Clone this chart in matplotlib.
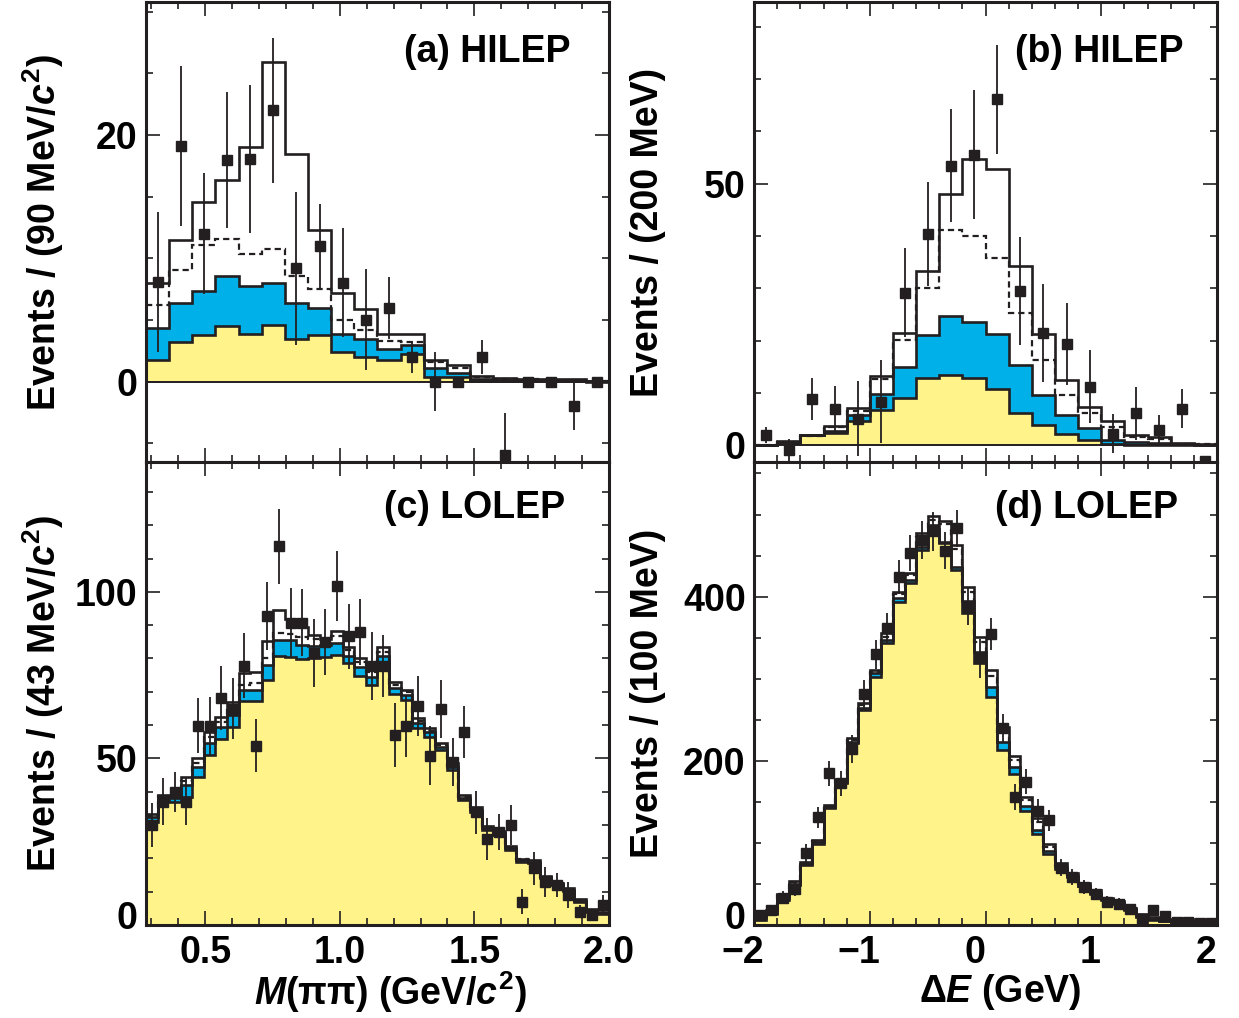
import numpy as np
import matplotlib.pyplot as plt
from matplotlib.ticker import MultipleLocator
from matplotlib.transforms import ScaledTranslation

plt.rcParams['font.family'] = ['Liberation Sans', 'DejaVu Sans']
plt.rcParams['font.weight'] = 'bold'
plt.rcParams['mathtext.fontset'] = 'custom'
plt.rcParams['mathtext.rm'] = 'Liberation Sans:bold'
plt.rcParams['mathtext.it'] = 'Liberation Sans:bold:italic'
plt.rcParams['mathtext.bf'] = 'Liberation Sans:bold'

INK = '#231f20'
YELLOW = '#fff38a'
BLUE = '#00b0e8'
FS = 27

# (a) HILEP, M(pipi), 20 bins from 0.28 to 2.0 GeV/c^2
a_yellow = [1.8, 3.25, 3.8, 4.5, 3.85, 4.6, 3.5, 3.8, 2.4, 2.0, 1.75, 2.25, 0.4, 0.35, 0.1, 0.05, 0.05, 0.05, 0.05, 0.02]
a_blue = [4.4, 6.35, 7.4, 8.6, 7.8, 8.0, 6.35, 6.0, 3.9, 3.5, 2.7, 3.0, 1.1, 0.7, 0.2, 0.12, 0.1, 0.1, 0.1, 0.05]
a_dashed = [6.2, 9.05, 11.1, 11.6, 10.35, 10.75, 8.6, 7.5, 5.05, 4.2, 3.3, 3.2, 1.6, 1.1, 0.35, 0.25, 0.2, 0.15, 0.15, 0.08]
a_total = [8.0, 11.5, 14.6, 16.35, 19.05, 25.9, 18.5, 12.3, 7.2, 5.9, 3.9, 3.9, 1.8, 1.4, 0.45, 0.3, 0.25, 0.2, 0.2, 0.1]
a_data = [8.1, 19.1, 12.0, 18.0, 18.1, 22.0, 9.2, 11.0, 8.05, 5.05, 6.0, 2.0, 0.0, 0.0, 2.0, -5.9, 0.0, 0.0, -2.0, 0.0]
a_err = [5.7, 6.5, 4.9, 5.5, 6.0, 5.9, 6.2, 3.4, 4.4, 4.1, 2.5, 1.3, 2.4, 0.4, 1.4, 3.4, 0.3, 0.3, 1.9, 0.3]

# (b) HILEP, Delta E, 20 bins from -2 to 2 GeV
b_yellow = [0.05, 0.5, 1.9, 2.4, 4.7, 6.7, 9.1, 12.9, 13.5, 12.9, 10.8, 6.25, 3.8, 2.2, 0.95, 0.3, 0.1, 0.1, 0.1, 0.05]
b_blue = [0.05, 0.5, 1.9, 2.7, 5.7, 9.7, 15.0, 21.0, 24.7, 23.6, 21.2, 15.3, 9.6, 5.7, 3.2, 1.0, 0.6, 0.45, 0.2, 0.1]
b_dashed = [0.1, 0.6, 1.8, 3.5, 6.5, 12.6, 20.1, 30.0, 41.1, 39.9, 35.8, 25.3, 16.3, 9.6, 6.1, 3.4, 1.6, 1.1, 0.3, 0.15]
b_total = [0.1, 0.8, 1.9, 3.7, 7.1, 13.2, 21.4, 33.3, 48.0, 54.7, 52.7, 34.3, 21.2, 12.4, 7.3, 4.7, 2.0, 1.5, 0.45, 0.2]
b_data = [1.9, -1.0, 8.9, 7.0, 5.1, 8.3, 29.1, 40.3, 53.4, 55.5, 66.1, 29.5, 21.4, 19.3, 11.2, 2.2, 6.1, 2.9, 7.0, -3.0]
b_err = [1.5, 2.2, 4.0, 4.3, 7.2, 7.9, 8.5, 9.9, 10.8, 12.3, 10.4, 10.3, 9.4, 7.8, 7.0, 3.7, 5.1, 2.9, 3.7, 1.0]

# (c) LOLEP, M(pipi), 40 bins from 0.28 to 2.0 GeV/c^2
c_yellow = [31.0, 37.5, 37.0, 38.5, 44.5, 51.0, 55.7, 59.5, 67.3, 67.3, 73.6, 80.7, 80.3, 79.7, 80.0, 80.3, 81.0, 78.5, 74.7, 72.0,
            78.5, 69.3, 67.5, 59.0, 56.5, 52.5, 46.5, 37.5, 34.0, 28.5, 27.0, 22.5, 19.0, 18.7, 14.0, 12.0, 10.3, 7.0, 4.0, 3.3]
c_blue = [32.3, 38.3, 38.0, 42.0, 47.3, 54.5, 59.5, 63.0, 70.6, 70.6, 78.1, 85.6, 85.5, 84.0, 83.7, 84.0, 84.7, 80.7, 77.3, 74.3,
          80.7, 71.0, 69.0, 60.5, 57.8, 53.5, 47.3, 38.0, 34.5, 29.0, 27.5, 23.2, 19.5, 19.0, 14.3, 12.3, 10.5, 7.3, 4.3, 3.5]
c_dashed = [32.7, 38.7, 38.5, 43.3, 48.7, 56.5, 61.0, 65.0, 72.0, 72.5, 80.2, 87.7, 87.3, 86.5, 86.0, 85.5, 86.7, 82.5, 79.0, 76.0,
            82.0, 72.0, 69.8, 61.2, 58.3, 54.0, 47.8, 38.5, 34.8, 29.3, 27.8, 23.5, 19.7, 19.2, 14.5, 12.5, 10.7, 7.5, 4.5, 3.7]
c_total = [33.3, 39.0, 39.0, 44.3, 50.2, 57.8, 62.5, 66.8, 75.5, 76.0, 85.3, 94.7, 92.0, 89.5, 87.0, 86.0, 88.3, 83.5, 80.0, 76.5,
           83.3, 73.0, 70.5, 62.0, 59.0, 54.5, 48.5, 39.0, 35.3, 29.7, 28.2, 23.8, 19.8, 19.5, 14.7, 12.7, 11.0, 7.7, 4.7, 4.0]
c_data = [30.0, 37.0, 40.0, 37.0, 59.8, 59.8, 68.0, 64.9, 77.8, 53.8, 92.8, 113.7, 90.8, 90.8, 81.7, 84.9, 101.7, 86.7, 87.9, 77.8,
          77.8, 57.0, 59.8, 65.8, 50.8, 64.8, 49.0, 57.8, 33.8, 25.8, 28.0, 30.0, 7.0, 17.0, 13.0, 12.0, 9.0, 4.0, 3.0, 6.0]
c_err = [6.5, 7.0, 6.0, 7.0, 8.2, 8.7, 9.6, 9.2, 9.8, 7.9, 10.3, 11.3, 10.4, 10.1, 10.2, 10.0, 10.5, 9.8, 10.0, 10.2,
         9.3, 9.5, 9.3, 9.0, 8.8, 8.6, 7.2, 7.8, 6.5, 6.4, 5.4, 6.1, 3.7, 5.0, 4.5, 3.6, 3.9, 2.0, 1.7, 2.9]

# (d) LOLEP, Delta E, 40 bins from -2 to 2 GeV
d_yellow = [6.5, 13.0, 30.9, 48.4, 72.8, 99.2, 141.9, 172.4, 221.1, 262.0, 302.4, 343.9, 394.0, 416.0, 457.0, 482.0, 465.0, 432.5, 379.7, 318.7,
            278.0, 213.0, 183.7, 139.0, 111.4, 87.0, 68.7, 58.5, 47.0, 38.2, 30.1, 26.0, 17.9, 9.8, 6.5, 4.5, 3.3, 2.8, 2.0, 2.0]
d_blue = [8.5, 15.0, 33.3, 50.4, 74.8, 101.2, 143.9, 174.4, 223.2, 264.0, 306.5, 347.0, 398.0, 420.0, 461.0, 487.4, 467.0, 436.6, 395.0, 333.0,
          290.0, 223.0, 192.7, 144.7, 116.0, 90.2, 71.0, 59.8, 47.6, 39.4, 31.3, 27.2, 19.1, 11.0, 7.7, 5.3, 3.7, 3.7, 2.8, 2.8]
d_dashed = [9.5, 17.0, 36.0, 52.0, 75.5, 102.0, 145.0, 176.0, 225.0, 268.0, 308.5, 351.0, 403.0, 426.0, 473.0, 493.0, 489.0, 458.0, 405.0, 345.0,
            303.0, 235.0, 201.0, 152.0, 126.0, 95.0, 73.0, 61.0, 49.5, 40.5, 32.3, 28.3, 20.3, 12.3, 9.0, 6.0, 4.5, 4.5, 3.4, 3.4]
d_total = [10.6, 18.7, 38.2, 53.7, 76.8, 103.3, 145.9, 177.2, 227.2, 270.0, 310.6, 355.3, 406.1, 429.3, 477.0, 497.6, 491.5, 463.0, 412.2, 351.2,
           310.6, 241.5, 205.7, 155.3, 130.0, 99.2, 76.0, 63.0, 51.0, 42.0, 33.3, 29.3, 21.1, 13.0, 9.8, 6.5, 4.9, 4.9, 3.7, 3.7]
d_data = [11.8, 17.9, 33.3, 44.3, 88.2, 130.9, 184.6, 172.4, 214.2, 280.9, 329.7, 361.4, 424.4, 452.8, 469.1, 479.3, 456.1, 483.3, 387.8, 324.8,
          354.1, 239.4, 155.3, 174.4, 139.0, 127.6, 69.9, 58.5, 46.3, 37.4, 28.0, 26.0, 19.9, 7.7, 17.9, 10.6, 3.7, 3.7, 2.8, 2.8]
d_err = [5.0, 6.0, 8.0, 9.0, 11.0, 13.0, 15.0, 15.0, 17.0, 17.0, 17.3, 18.3, 20.7, 22.0, 23.0, 24.0, 22.0, 22.4, 22.4, 23.4,
         19.7, 17.0, 15.8, 15.0, 14.0, 13.0, 10.0, 9.5, 8.5, 7.5, 7.0, 6.5, 6.0, 4.5, 5.5, 4.0, 3.0, 3.0, 2.5, 2.5]


def draw_panel(ax, edges, yellow, blue, dashed, total, data, err):
    ax.stairs(yellow, edges, baseline=0, fill=True, color=YELLOW, lw=0, zorder=1)
    ax.stairs(blue, edges, baseline=yellow, fill=True, color=BLUE, lw=0, zorder=1)
    ax.stairs(yellow, edges, baseline=None, color=INK, lw=1.9, zorder=2)
    ax.stairs(blue, edges, baseline=None, color=INK, lw=1.9, zorder=2)
    ax.stairs(dashed, edges, baseline=None, color=INK, lw=1.6, ls=(0, (2.8, 1.8)), zorder=2)
    ax.stairs(total, edges, baseline=None, color=INK, lw=1.9, zorder=2)
    centers = 0.5 * (edges[:-1] + edges[1:])
    ax.errorbar(centers, data, yerr=err, fmt='s', ms=7.8, color=INK,
                elinewidth=1.3, capsize=0, zorder=4)


def style_axes(ax, xmajor, xminor, ymajor, yminor):
    ax.xaxis.set_major_locator(MultipleLocator(xmajor))
    ax.xaxis.set_minor_locator(MultipleLocator(xminor))
    ax.yaxis.set_major_locator(MultipleLocator(ymajor))
    ax.yaxis.set_minor_locator(MultipleLocator(yminor))
    ax.tick_params(which='both', direction='in', top=True, right=True,
                   width=1.2, color=INK, labelsize=FS, pad=6)
    ax.tick_params(which='major', length=10)
    ax.tick_params(which='minor', length=5)
    for s in ax.spines.values():
        s.set_linewidth(2.2)
        s.set_color(INK)


fig = plt.figure(figsize=(12.39, 10.18), dpi=100)
ax_a = fig.add_axes([0.1178, 0.5462, 0.3737, 0.4519])
ax_b = fig.add_axes([0.6086, 0.5462, 0.3737, 0.4519])
ax_c = fig.add_axes([0.1178, 0.0914, 0.3737, 0.4548])
ax_d = fig.add_axes([0.6086, 0.0914, 0.3737, 0.4548])

edges_a = np.linspace(0.28, 2.0, len(a_total) + 1)
edges_b = np.linspace(-2.0, 2.0, len(b_total) + 1)
edges_c = np.linspace(0.28, 2.0, len(c_total) + 1)
edges_d = np.linspace(-2.0, 2.0, len(d_total) + 1)

draw_panel(ax_a, edges_a, a_yellow, a_blue, a_dashed, a_total, a_data, a_err)
draw_panel(ax_b, edges_b, b_yellow, b_blue, b_dashed, b_total, b_data, b_err)
draw_panel(ax_c, edges_c, c_yellow, c_blue, c_dashed, c_total, c_data, c_err)
draw_panel(ax_d, edges_d, d_yellow, d_blue, d_dashed, d_total, d_data, d_err)

for ax in (ax_a, ax_b):
    ax.axhline(0, color=INK, lw=1.4, zorder=2)

ax_a.set_xlim(0.28, 2.0)
ax_a.set_ylim(-6.5, 30.8)
ax_b.set_xlim(-2.0, 2.0)
ax_b.set_ylim(-3.2, 84.7)
ax_c.set_xlim(0.28, 2.0)
ax_c.set_ylim(0, 139)
ax_d.set_xlim(-2.0, 2.0)
ax_d.set_ylim(0, 564)

style_axes(ax_a, 0.5, 0.1, 20, 5)
style_axes(ax_b, 1, 0.2, 50, 10)
style_axes(ax_c, 0.5, 0.1, 50, 10)
style_axes(ax_d, 1, 0.2, 200, 50)

ax_a.tick_params(labelbottom=False)
ax_b.tick_params(labelbottom=False)
ax_c.tick_params(axis='x', pad=7.5)
ax_d.tick_params(axis='x', pad=7.5)
ax_c.xaxis.set_major_formatter(plt.FuncFormatter(lambda v, p: f'{v:.1f}'))

# the Delta E tick labels sit a little left of their ticks
shift = ScaledTranslation(-0.11, 0, fig.dpi_scale_trans)
for lab in ax_d.get_xticklabels():
    lab.set_transform(lab.get_transform() + shift)

# lift the bottom "0" labels clear of the x tick labels
fig.canvas.draw()
lift = ScaledTranslation(0, 0.10, fig.dpi_scale_trans)
for ax in (ax_c, ax_d):
    for lab in ax.get_yticklabels():
        if lab.get_text() == '0':
            lab.set_transform(lab.get_transform() + lift)

panel_text = [(ax_a, '(a) HILEP', 0.916, 0.870),
              (ax_b, '(b) HILEP', 0.927, 0.870),
              (ax_c, '(c) LOLEP', 0.905, 0.879),
              (ax_d, '(d) LOLEP', 0.916, 0.879)]
for ax, txt, x, y in panel_text:
    ax.text(x, y, txt, transform=ax.transAxes, ha='right', va='baseline',
            fontsize=FS, fontweight='bold', zorder=5)

ylabels = [(ax_a, r'Events / (90 MeV/$c^2$)', -0.222),
           (ax_b, 'Events / (200 MeV)', -0.229),
           (ax_c, r'Events / (43 MeV/$c^2$)', -0.222),
           (ax_d, 'Events / (100 MeV)', -0.229)]
for ax, txt, x in ylabels:
    ax.set_ylabel(txt, fontsize=FS, fontweight='bold')
    ax.yaxis.set_label_coords(x, 0.5)
    ax.yaxis.label.set_va('center')

ax_c.set_xlabel(r'$M$($\mathrm{\pi\pi}$) (GeV/$c^2$)', fontsize=FS, fontweight='bold')
ax_c.xaxis.set_label_coords(0.527, -0.145)
ax_c.xaxis.label.set_va('center')
ax_d.set_xlabel(r'$\Delta E$ (GeV)', fontsize=FS, fontweight='bold')
ax_d.xaxis.set_label_coords(0.531, -0.145)
ax_d.xaxis.label.set_va('center')

fig.savefig('out.png', dpi=100)
